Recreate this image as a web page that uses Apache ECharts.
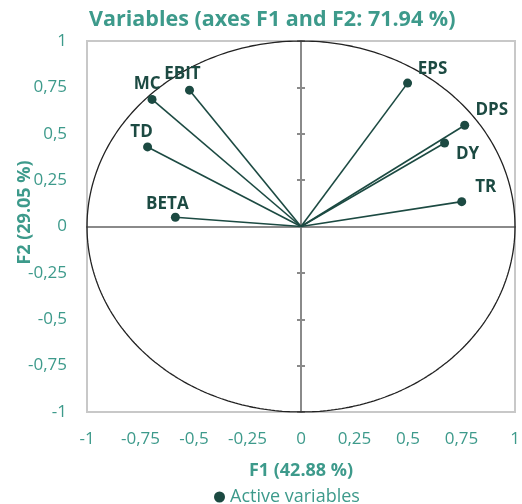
<!DOCTYPE html>
<html>
<head>
<meta charset="utf-8">
<script src="https://cdn.jsdelivr.net/npm/echarts@6/dist/echarts.min.js"></script>
<style>html,body{margin:0;padding:0;background:#fff}#c{width:522px;height:504px}</style>
</head>
<body>
<div id="c"></div>
<script>
// ---- data ----
var variables = ['EPS', 'DPS', 'DY', 'TR', 'EBIT', 'MC', 'TD', 'BETA'];
var f1Values = [0.498, 0.765, 0.671, 0.751, -0.521, -0.696, -0.717, -0.587];
var f2Values = [0.773, 0.546, 0.450, 0.134, 0.735, 0.685, 0.429, 0.050];
var tickValues = [-1, -0.75, -0.5, -0.25, 0, 0.25, 0.5, 0.75, 1];
var titleText = 'Variables (axes F1 and F2: 71.94 %)';
var xName = 'F1 (42.88 %)';
var yName = 'F2 (29.05 %)';
var legendName = 'Active variables';

// ---- label layout (pixel offsets, kept apart from data) ----
var labelOffsets = {
  EPS: [25, -1], DPS: [27, -2], DY: [23, 24], TR: [24, -1],
  EBIT: [-7, -3], MC: [-5, -2], TD: [-6, -2], BETA: [-8, 0]
};

var teal = '#3d9a8b';
var dark = '#1c4a42';
var font = 'Open Sans';

function fmt(v) { return String(v).replace('.', ','); }

var points = variables.map(function (n, i) {
  return {
    name: n,
    value: [f1Values[i], f2Values[i]],
    label: { offset: labelOffsets[n] }
  };
});
var segs = variables.map(function (n, i) {
  return { coords: [[0, 0], [f1Values[i], f2Values[i]]] };
});
var circle = [];
for (var a = 0; a <= 360; a += 1) {
  var r = a * Math.PI / 180;
  circle.push([Math.cos(r), Math.sin(r)]);
}

var chart = echarts.init(document.getElementById('c'));
chart.setOption({
  animation: false,
  title: {
    text: titleText, left: 84, top: 4,
    textStyle: { color: teal, fontFamily: font, fontWeight: 'bold', fontSize: 21.5 }
  },
  legend: {
    data: [{ name: legendName, icon: 'circle' }],
    left: 209, top: 483, itemWidth: 11, itemHeight: 11, itemGap: 6,
    textStyle: { color: teal, fontFamily: font, fontSize: 18 }
  },
  grid: {
    left: 87, right: 7, top: 41, bottom: 92, containLabel: false, outerBoundsMode: 'none',
    show: true, borderColor: '#c8c8c8', borderWidth: 2
  },
  xAxis: [{
    type: 'value', min: -1, max: 1, interval: 0.25, position: 'bottom',
    axisLine: { show: false, onZero: false }, axisTick: { show: false }, splitLine: { show: false },
    axisLabel: { formatter: fmt, color: teal, fontFamily: font, fontSize: 17, margin: 19 },
    name: xName, nameLocation: 'middle', nameGap: 50, nameMoveOverlap: false,
    nameTextStyle: { color: teal, fontFamily: font, fontWeight: 'bold', fontSize: 18 }
  }, {
    type: 'value', min: -1, max: 1, interval: 0.25,
    axisLine: { show: true, onZero: true, lineStyle: { color: '#8a8a8a', width: 2 } },
    axisTick: { show: false }, axisLabel: { show: false }, splitLine: { show: false }
  }],
  yAxis: [{
    type: 'value', min: -1, max: 1, interval: 0.25, position: 'left',
    axisLine: { show: false, onZero: false }, axisTick: { show: false }, splitLine: { show: false },
    axisLabel: { formatter: fmt, color: teal, fontFamily: font, fontSize: 17, margin: 20 },
    name: yName, nameLocation: 'middle', nameGap: 53, nameRotate: 90, nameMoveOverlap: false,
    nameTextStyle: { color: teal, fontFamily: font, fontWeight: 'bold', fontSize: 18, padding: [0, 0, 0, 28] }
  }, {
    type: 'value', min: -1, max: 1, interval: 0.25, position: 'left',
    axisLine: { show: true, onZero: true, onZeroAxisIndex: 1, lineStyle: { color: '#8a8a8a', width: 2 } },
    axisTick: { show: true, inside: true, length: 4, lineStyle: { color: '#8a8a8a', width: 2 } },
    axisLabel: { show: false }, splitLine: { show: false }
  }, {
    type: 'value', min: -1, max: 1, interval: 0.25, position: 'left',
    axisLine: { show: false, onZero: true, onZeroAxisIndex: 1 },
    axisTick: { show: true, inside: false, length: 4, lineStyle: { color: '#8a8a8a', width: 2 } },
    axisLabel: { show: false }, splitLine: { show: false }
  }],
  series: [{
    type: 'line', data: circle, showSymbol: false, silent: true, smooth: false,
    lineStyle: { color: '#222', width: 1.3 }, z: 2
  }, {
    type: 'lines', coordinateSystem: 'cartesian2d', data: segs, silent: true,
    lineStyle: { color: dark, width: 1.6, opacity: 1 }, z: 3
  }, {
    name: legendName, type: 'scatter', data: points, symbolSize: 9,
    itemStyle: { color: dark, opacity: 1 }, z: 4,
    label: {
      show: true, position: 'top', formatter: '{b}', distance: 0,
      color: dark, fontFamily: font, fontWeight: 'bold', fontSize: 17
    }
  }]
});
</script>
</body>
</html>
